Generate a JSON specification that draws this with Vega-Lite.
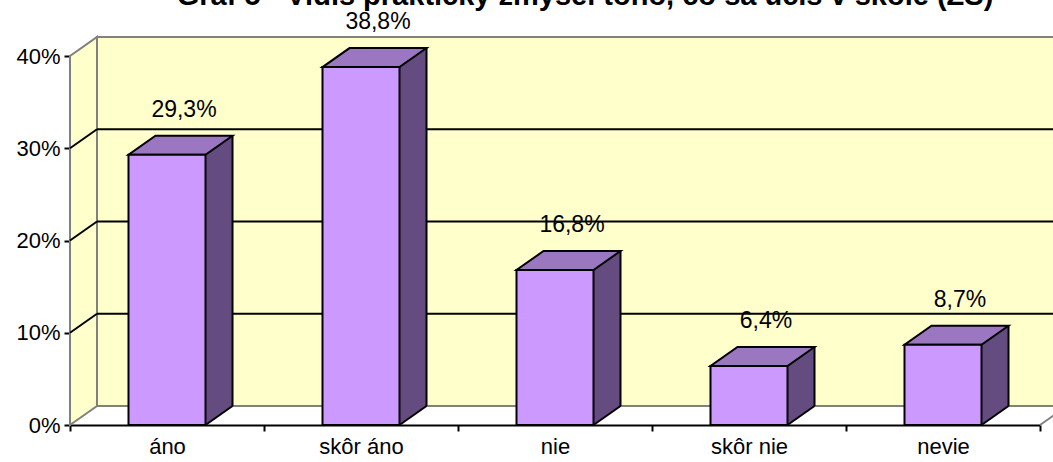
{
  "$schema": "https://vega.github.io/schema/vega-lite/v6.json",
  "width": 970,
  "height": 369,
  "autosize": "none",
  "padding": {"left": 70, "top": 56, "right": 13, "bottom": 37},
  "background": "white",
  "title": {
    "text": "Graf 5 - Vidíš praktický zmysel toho, čo sa učíš v škole (ZŠ)",
    "fontSize": 29,
    "fontWeight": "bold",
    "color": "black",
    "font": "Liberation Sans",
    "anchor": "middle",
    "frame": "group",
    "baseline": "alphabetic",
    "offset": 0,
    "dx": 30,
    "dy": 23
  },
  "config": {
    "font": "Liberation Sans",
    "locale": {"number": {"decimal": ",", "thousands": " ", "grouping": [3], "currency": ["", " €"]}},
    "view": {"stroke": null},
    "axisX": {"tickBand": "extent", "labelAngle": 0, "domainColor": "black", "domainWidth": 2, "tickColor": "black", "tickWidth": 2, "tickSize": 6, "labelFontSize": 22, "labelColor": "black", "labelPadding": 5, "grid": false, "zindex": 1, "title": null},
    "axisY": {"domainColor": "black", "domainWidth": 2, "tickColor": "black", "tickWidth": 2, "tickSize": 6, "labelFontSize": 22, "labelColor": "black", "labelPadding": 4, "grid": false, "zindex": 1, "title": null}
  },
  "datasets": {
    "bars": [
      {"odpoved": "áno", "podiel": 0.293},
      {"odpoved": "skôr áno", "podiel": 0.388},
      {"odpoved": "nie", "podiel": 0.168},
      {"odpoved": "skôr nie", "podiel": 0.064},
      {"odpoved": "nevie", "podiel": 0.087}
    ],
    "grid": [{"g": 0.1}, {"g": 0.2}, {"g": 0.3}],
    "one": [{"k": "stena"}]
  },
  "layer": [
    {
      "data": {"name": "one"},
      "mark": {"type": "rect", "fill": "#FFFFCC", "stroke": "#808080", "strokeWidth": 2, "xOffset": 27, "x2Offset": 27, "yOffset": -19, "y2Offset": -19},
      "encoding": {
        "x": {"value": 0},
        "x2": {"value": "width"},
        "y": {"datum": 0, "type": "quantitative", "title": null, "scale": {"domain": [0, 0.4], "nice": false}},
        "y2": {"datum": 0.4}
      }
    },
    {
      "data": {"name": "one"},
      "mark": {"type": "point", "shape": "M0,0 L27,-19 L27,-388 L0,-369 Z", "size": 4, "filled": true, "fill": "#FFFFCC", "stroke": "#808080", "strokeWidth": 2, "opacity": 1},
      "encoding": {
        "x": {"datum": "áno", "type": "nominal", "bandPosition": 0, "title": null},
        "y": {"datum": 0, "type": "quantitative", "title": null}
      }
    },
    {
      "data": {"name": "grid"},
      "mark": {"type": "rule", "stroke": "black", "strokeWidth": 2, "xOffset": 27, "x2Offset": 27, "yOffset": -19},
      "encoding": {
        "x": {"value": 0},
        "x2": {"value": "width"},
        "y": {"field": "g", "type": "quantitative", "title": null}
      }
    },
    {
      "data": {"name": "grid"},
      "mark": {"type": "point", "shape": "M0,0 L27,-19", "size": 4, "filled": false, "stroke": "black", "strokeWidth": 2, "opacity": 1},
      "encoding": {
        "x": {"datum": "áno", "type": "nominal", "bandPosition": 0, "title": null},
        "y": {"field": "g", "type": "quantitative", "title": null}
      }
    },
    {
      "data": {"name": "one"},
      "mark": {"type": "point", "shape": "M0,0 L27,-19", "size": 4, "filled": false, "stroke": "#808080", "strokeWidth": 2, "opacity": 1},
      "encoding": {
        "x": {"datum": "nevie", "type": "nominal", "bandPosition": 1, "title": null},
        "y": {"datum": 0, "type": "quantitative", "title": null}
      }
    },
    {
      "data": {"name": "bars"},
      "mark": {"type": "bar", "width": 27, "xOffset": 52, "fill": "#654C80", "yOffset": -19, "y2Offset": -19},
      "encoding": {
        "x": {"field": "odpoved", "type": "nominal", "title": null, "scale": {"domain": ["áno", "skôr áno", "nie", "skôr nie", "nevie"], "paddingInner": 0, "paddingOuter": 0}},
        "y": {"field": "podiel", "type": "quantitative", "title": null}
      }
    },
    {
      "data": {"name": "bars"},
      "mark": {"type": "point", "shape": "M38.5,-19 L38.5,0 L65.5,-19 Z", "size": 4, "filled": true, "fill": "#654C80", "strokeWidth": 0, "opacity": 1},
      "encoding": {
        "x": {"field": "odpoved", "type": "nominal", "bandPosition": 0.5, "title": null},
        "y": {"datum": 0, "type": "quantitative", "title": null}
      }
    },
    {
      "data": {"name": "bars"},
      "mark": {"type": "point", "shape": "M38.5,0 L65.5,-19", "size": 4, "filled": false, "stroke": "black", "strokeWidth": 2, "opacity": 1},
      "encoding": {
        "x": {"field": "odpoved", "type": "nominal", "bandPosition": 0.5, "title": null},
        "y": {"datum": 0, "type": "quantitative", "title": null}
      }
    },
    {
      "data": {"name": "bars"},
      "mark": {"type": "rule", "stroke": "black", "strokeWidth": 2, "xOffset": 65.5, "yOffset": -19, "y2Offset": -19},
      "encoding": {
        "x": {"field": "odpoved", "type": "nominal", "bandPosition": 0.5, "title": null},
        "y": {"field": "podiel", "type": "quantitative", "title": null},
        "y2": {"datum": 0}
      }
    },
    {
      "data": {"name": "bars"},
      "mark": {"type": "point", "shape": "M-38.5,0 L38.5,0 L65.5,-19 L-11.5,-19 Z", "size": 4, "filled": true, "fill": "#9A77C0", "stroke": "black", "strokeWidth": 2, "opacity": 1},
      "encoding": {
        "x": {"field": "odpoved", "type": "nominal", "bandPosition": 0.5, "title": null},
        "y": {"field": "podiel", "type": "quantitative", "title": null}
      }
    },
    {
      "data": {"name": "bars"},
      "mark": {"type": "bar", "width": 77, "fill": "#CC99FF", "stroke": "black", "strokeWidth": 2},
      "encoding": {
        "x": {"field": "odpoved", "type": "nominal", "title": null},
        "y": {"field": "podiel", "type": "quantitative", "title": null, "axis": {"format": ".0%", "tickCount": 4}}
      }
    },
    {
      "data": {"name": "bars"},
      "mark": {"type": "text", "dx": 17, "dy": -45, "fontSize": 23, "color": "black", "baseline": "middle"},
      "encoding": {
        "x": {"field": "odpoved", "type": "nominal", "title": null},
        "y": {"field": "podiel", "type": "quantitative", "title": null},
        "text": {"field": "podiel", "type": "quantitative", "format": ".1%"}
      }
    }
  ]
}
